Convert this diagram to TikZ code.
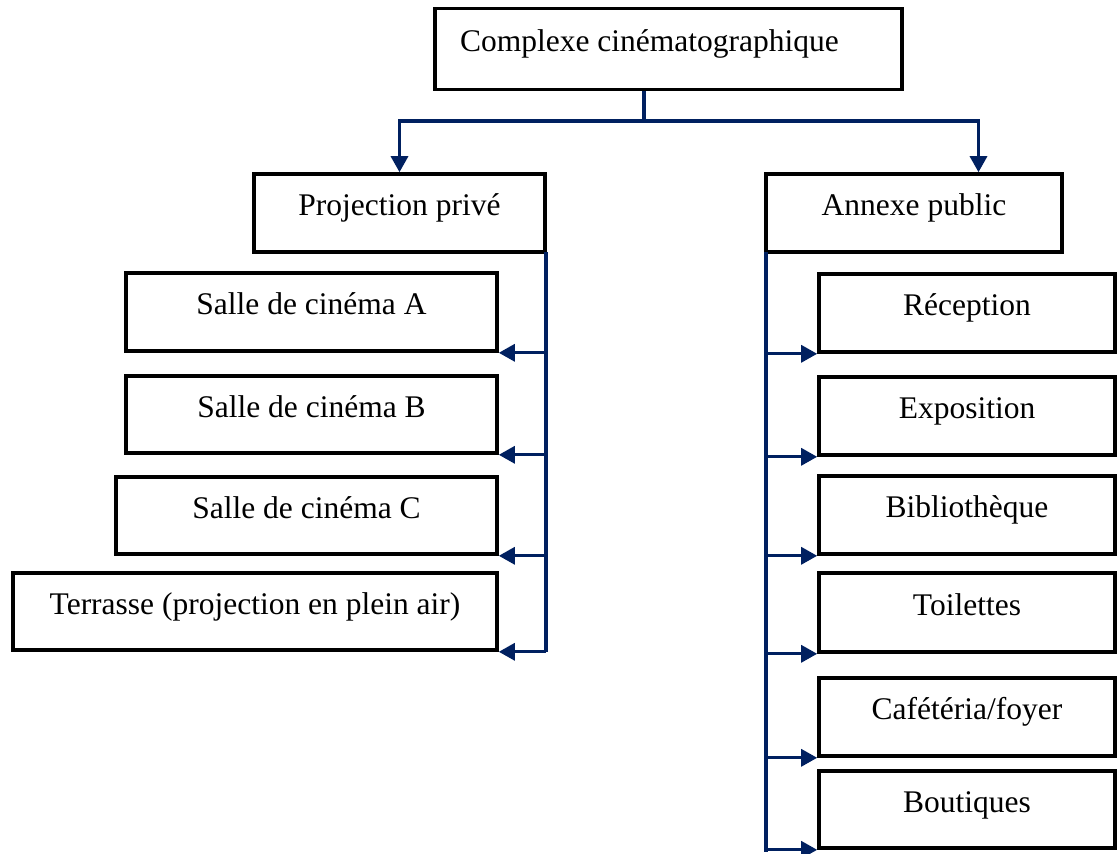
\documentclass[tikz,border=0pt]{standalone}
\usepackage{fontspec}
\setmainfont{Liberation Serif}
\usetikzlibrary{arrows.meta,calc}
\definecolor{navy}{RGB}{0,32,96}
\begin{document}
\begin{tikzpicture}[x=1pt,y=-1pt,
  box/.style={draw=black,line width=3.6pt,rectangle,inner sep=0pt,
    text height=25pt,text depth=20pt,font=\fontsize{31.5}{36}\selectfont},
  conn/.style={draw=navy,line width=3.2pt},
  arr/.style={conn,-{Triangle[length=16pt,width=17pt]}}]
\useasboundingbox (0,0) rectangle (1117,854);
% boxes
\node[box,minimum width=467pt,minimum height=81pt] (top) at (668.5,49) {Complexe cinématographique\hspace*{38pt}};
\node[box,minimum width=291pt,minimum height=78pt] (proj) at (399.5,213) {Projection privé};
\node[box,minimum width=296pt,minimum height=78pt] (annexe) at (914,213) {Annexe public};
\node[box,minimum width=371pt,minimum height=78pt] (sA) at (311.5,312) {Salle de cinéma A};
\node[box,minimum width=371pt,minimum height=77pt] (sB) at (311.5,414.5) {Salle de cinéma B};
\node[box,minimum width=381pt,minimum height=77pt] (sC) at (306.5,515.5) {Salle de cinéma C};
\node[box,minimum width=484pt,minimum height=77pt] (terr) at (255,611.5) {Terrasse (projection en plein air)};
\node[box,minimum width=296pt,minimum height=78pt] (rec) at (967,313) {Réception};
\node[box,minimum width=296pt,minimum height=78pt] (expo) at (967,416) {Exposition};
\node[box,minimum width=296pt,minimum height=78pt] (bib) at (967,515) {Bibliothèque};
\node[box,minimum width=296pt,minimum height=79pt] (toil) at (967,612.5) {Toilettes};
\node[box,minimum width=296pt,minimum height=78pt] (caf) at (967,717) {Cafétéria/foyer};
\node[box,minimum width=296pt,minimum height=77pt] (bout) at (967,809.5) {Boutiques};
% top connectors
\coordinate (j) at (644,121);
\coordinate (ra) at (978.5,121);
\draw[conn] (top.south -| j) -- (j);
\draw[arr] (j) -| (proj.north);
\draw[arr] (j) -- (ra) -- (ra |- annexe.north);
% left bus
\coordinate (lb) at (546,252);
\draw[conn] (lb) -- (lb |- terr.south);
\foreach \n in {sA,sB,sC,terr}{
  \draw[arr] (lb |- \n.south east) -- (\n.south east);
}
% right bus
\coordinate (rb) at (766,252);
\draw[conn] (rb) -- ($(rb |- bout.south west)+(0,2)$);
\foreach \n in {rec,expo,bib,toil,caf,bout}{
  \draw[arr] (rb |- \n.south west) -- (\n.south west);
}
\end{tikzpicture}
\end{document}
